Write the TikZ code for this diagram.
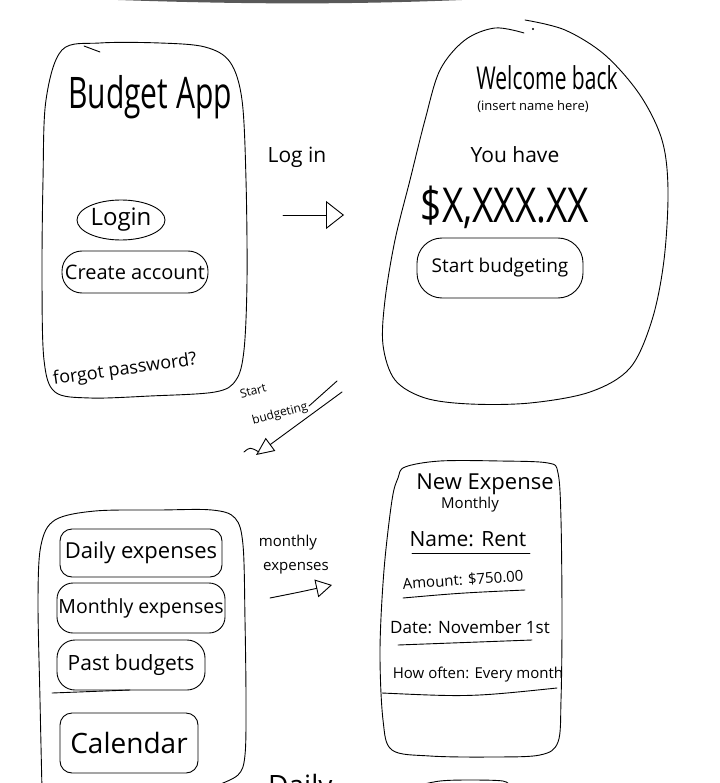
\documentclass[tikz,border=0pt]{standalone}
\usepackage{fontspec}
\setmainfont{Open Sans}
\usepackage{graphicx}
\usetikzlibrary{arrows.meta,shapes.geometric}
% stretch a label vertically, like tall handwriting
\newcommand\tallhand[2][1.35]{\scalebox{1}[#1]{#2}}
\begin{document}
\begin{tikzpicture}[x=1pt,y=-1pt,
  pen/.style={line width=0.9pt, line cap=round, line join=round},
  txt/.style={inner sep=0pt, font=\fontsize{#1}{#1}\selectfont},
  btn/.style={pen, draw, rounded corners=#1, inner sep=0pt},
]
\useasboundingbox (0,0) rectangle (719,783);
\clip (0,0) rectangle (719,783);
\fill[white] (0,0) rectangle (719,783);

% scanner shadow along the top edge
\fill[black!65] (118,0) .. controls (250,4.5) and (350,4.5) .. (462,0) -- cycle;

% ---------- screen 1: sign-in ----------
\draw[pen] plot[smooth cycle, tension=0.55] coordinates {(62,50) (100,43) (160,43) (205,47) (230,62) (242,100) (246,180) (247,280) (244,350) (236,380) (215,392) (150,396) (90,398) (55,392) (44,360) (42,280) (43,180) (46,100)};
\draw[pen] (84,46) -- (100,52);
\node[txt=30] (title) at (150,97) {\tallhand[1.45]{Budget App}};
\node[pen, draw, ellipse, minimum width=88pt, minimum height=40pt, inner sep=0pt, txt=24] (login) at (121,220) {Login};
\node[btn=20pt, minimum width=146pt, minimum height=42pt, txt=20] (create) at (135,272) {Create account};
\node[txt=18, rotate=8] (forgot) at (125,370) {forgot password?};

% ---------- log in transition ----------
\node[txt=21] (loginlbl) at (297,157) {Log in};
\coordinate (a1s) at (283,215);
\coordinate (a1e) at (344,215);
\draw[pen, -{Triangle[open,length=18pt,width=28pt]}] (a1s) -- (a1e);

% ---------- screen 2: welcome ----------
\draw[pen] plot[smooth, tension=0.55] coordinates {(524,33) (495,28) (465,40) (440,70) (425,120) (410,180) (395,240) (385,300) (383,345) (395,380) (425,398) (470,404) (530,403) (590,392) (630,368) (652,320) (664,260) (668,190) (662,140) (640,95) (605,55) (565,30) (525,20)};
\fill (533,29) circle (1.2pt);
\node[txt=21] (welcome) at (547,78) {\tallhand[1.5]{Welcome back}};
\node[txt=13] (insert) at (533,107) {(insert name here)};
\node[txt=21] (youhave) at (515,155) {You have};
\node[txt=37] (balance) at (505,207) {\tallhand[1.3]{\$X,XXX.XX}};
\node[btn=25pt, minimum width=166pt, minimum height=60pt, txt=19] (start) at (500,268) {Start budgeting};

% ---------- start budgeting transition ----------
\node[txt=12, rotate=15] (startlbl) at (253,391) {Start};
\node[txt=12, rotate=15] (budglbl) at (280,414) {budgeting};
\coordinate (a2s) at (342,392);
\coordinate (a2e) at (256,455);
\coordinate (a2t) at (337,381);
\coordinate (a2m) at (309,406);
\draw[pen, -{Triangle[open,length=18pt,width=16pt]}] (a2s) -- (a2e);
\draw[pen] (a2t) -- (a2m);
\draw[pen] (244,452) .. controls (250,447) .. (259,452);

% ---------- screen 3: menu ----------
\draw[pen] plot[smooth, tension=0.55] coordinates {(42,790) (40,700) (38,600) (41,545) (55,520) (95,511) (160,510) (212,510) (235,518) (243,545) (245,620) (246,700) (245,755) (238,775) (215,786)};
\node[btn=12pt, minimum width=162pt, minimum height=48pt, txt=22] (daily) at (141,553) {Daily expenses};
\node[btn=16pt, minimum width=168pt, minimum height=50pt, txt=19.5] (monthlyexp) at (141,608) {Monthly expenses};
\node[btn=18pt, minimum width=148pt, minimum height=50pt, txt=21] (past) at (131,665) {Past budgets};
\draw[pen] (52,693) -- (130,690);
\node[btn=12pt, minimum width=138pt, minimum height=60pt, txt=28] (calendar) at (129,743) {Calendar};

% ---------- monthly expenses transition ----------
\node[txt=15] (monthlbl) at (288,543) {monthly};
\node[txt=15] (explbl) at (296,568) {expenses};
\coordinate (a3s) at (270,598);
\coordinate (a3e) at (332,585);
\draw[pen, -{Triangle[open,length=16pt,width=18pt]}] (a3s) .. controls (300,592) .. (a3e);

% ---------- screen 4: new expense form ----------
\draw[pen] plot[smooth cycle, tension=0.55] coordinates {(405,467) (440,461) (500,461) (548,463) (558,473) (561,520) (562,620) (561,700) (558,742) (540,755) (490,757) (430,756) (392,750) (383,720) (380,650) (384,570) (392,500) (398,478)};
\node[txt=22] (newexp) at (485,484) {New Expense};
\node[txt=15] (freq) at (470,505) {Monthly};
\node[txt=21] (name) at (468,539) {Name: Rent};
\draw[pen] (412,553) -- (530,553);
\node[txt=15, rotate=4] (amt) at (463,580) {Amount: \$750.00};
\draw[pen] (403,598) .. controls (460,593) .. (525,590);
\node[txt=17] (date) at (470,627) {Date: November 1st};
\draw[pen] (398,645) -- (532,640);
\node[txt=15] (often) at (478,675) {How often: Every month};
\draw[pen] (382,693) .. controls (470,697) .. (557,688);

% ---------- next row, cut by the page edge ----------
\node[txt=28, anchor=base west] (dailylbl) at (268,795) {Daily};
\draw[pen] plot[smooth, tension=0.55] coordinates {(416,786) (440,781) (470,780) (503,781) (510,786)};
\end{tikzpicture}
\end{document}
